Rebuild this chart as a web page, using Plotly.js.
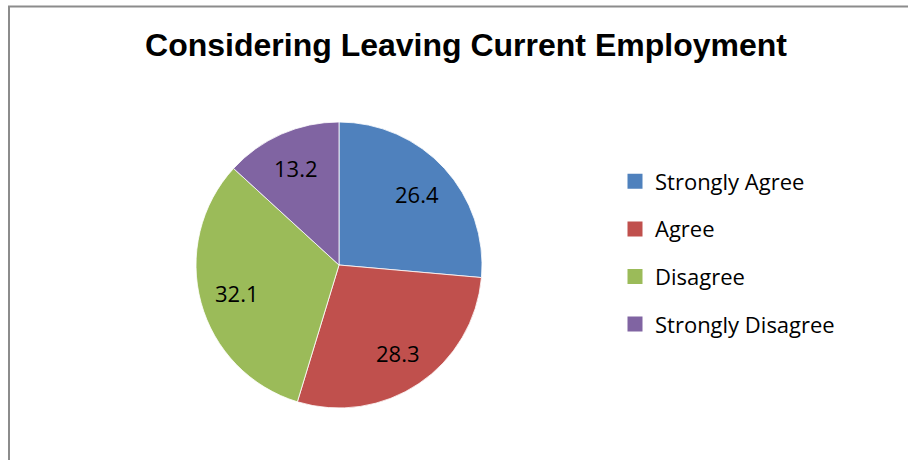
<!DOCTYPE html>
<html><head><meta charset="utf-8">
<script src="https://cdn.plot.ly/plotly-3.0.1.min.js"></script>
<style>html,body{margin:0;padding:0;background:#fff}#chart{width:908px;height:460px}</style>
</head><body><div id="chart"></div>
<script>
const categories = ["Strongly Agree", "Agree", "Disagree", "Strongly Disagree"];
const values = [26.4, 28.3, 32.1, 13.2];
const colors = ["#4F81BD", "#C0504D", "#9BBB59", "#8064A2"];
const chartTitle = "Considering Leaving Current Employment";

const W = 908, H = 460;
const font = "'Open Sans', sans-serif";
const pieDomain = {x: [196/W, 482/W], y: [1-408/H, 1-122/H]};

const traces = [{
  type: "pie",
  labels: categories,
  values: values,
  sort: false,
  direction: "clockwise",
  rotation: 0,
  marker: {colors: colors, line: {color: "#ffffff", width: 0.8}},
  textinfo: "none",
  showlegend: false,
  hoverinfo: "label+value",
  domain: pieDomain
}];
categories.forEach((c, i) => {
  traces.push({
    type: "scatter", x: [null], y: [null], mode: "markers", name: c,
    legendgroup: "g" + i,
    marker: {symbol: "square", size: 15, color: colors[i]},
    showlegend: true, hoverinfo: "skip"
  });
});

// data labels placed at each slice's mid-angle, derived from the values
const total = values.reduce((a, b) => a + b, 0);
const cxPx = (pieDomain.x[0] + pieDomain.x[1]) / 2 * W;
const cyPx = (1 - (pieDomain.y[0] + pieDomain.y[1]) / 2) * H;
const rPx = (pieDomain.x[1] - pieDomain.x[0]) / 2 * W;
const labelFrac = 0.74;
let cum = 0;
const annotations = values.map(v => {
  const mid = (cum + v / 2) / total * 2 * Math.PI;
  cum += v;
  const px = cxPx + rPx * labelFrac * Math.sin(mid);
  const py = cyPx - rPx * labelFrac * Math.cos(mid);
  return {xref: "paper", yref: "paper", x: px / W, y: 1 - py / H, xanchor: "center", yanchor: "middle",
          text: String(v), showarrow: false, font: {family: font, size: 22, color: "#000"}};
});

const layout = {
  width: W, height: H,
  margin: {l: 0, r: 0, t: 0, b: 0},
  paper_bgcolor: "#fff", plot_bgcolor: "rgba(0,0,0,0)",
  title: {text: "<b>" + chartTitle + "</b>", x: 466/W, xanchor: "center", y: 1-45/H, yanchor: "middle",
          font: {family: "'Liberation Sans', Arial, sans-serif", size: 32, color: "#000"}},
  xaxis: {visible: false}, yaxis: {visible: false},
  showlegend: true,
  legend: {x: 615/W, xanchor: "left", y: 1-160.5/H, yanchor: "top", font: {family: font, size: 22, color: "#000"},
           tracegroupgap: 16, bgcolor: "rgba(0,0,0,0)", itemclick: false},
  annotations: annotations,
  shapes: [{type: "rect", xref: "paper", yref: "paper", x0: 9/W, x1: 1.05, y0: -0.05, y1: 1-6.5/H,
            line: {color: "#8c8c8c", width: 2}, fillcolor: "rgba(0,0,0,0)", layer: "above"}]
};
Plotly.newPlot("chart", traces, layout, {displayModeBar: false, staticPlot: true});
</script></body></html>
